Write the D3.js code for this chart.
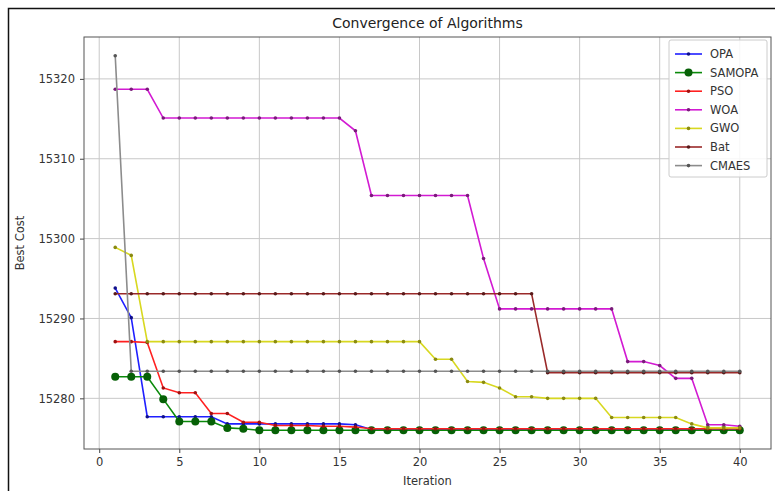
<!DOCTYPE html>
<html>
<head>
<meta charset="utf-8">
<script src="https://cdn.jsdelivr.net/npm/d3@7"></script>
<style>
  body { margin: 0; background: #fff; }
  svg { display: block; font-family: "DejaVu Sans", sans-serif; }
</style>
</head>
<body>
<div id="chart"></div>
<script>
// iterations 1..40
const iterations = d3.range(1, 41);

const opa = [15293.8, 15290.1, 15277.7, 15277.7, 15277.7, 15277.7, 15277.7, 15276.8, 15276.8, 15276.8,
             15276.8, 15276.8, 15276.8, 15276.8, 15276.8, 15276.7, 15276.1, 15276.1, 15276.1, 15276.1,
             15276.1, 15276.1, 15276.1, 15276.1, 15276.1, 15276.1, 15276.1, 15276.1, 15276.1, 15276.1,
             15276.1, 15276.1, 15276.1, 15276.1, 15276.1, 15276.1, 15276.1, 15276.1, 15276.1, 15276.1];
const samopa = [15282.7, 15282.7, 15282.7, 15279.9, 15277.1, 15277.1, 15277.1, 15276.3, 15276.2, 15276.0,
                15276.0, 15276.0, 15276.0, 15276.0, 15276.0, 15276.0, 15276.0, 15276.0, 15276.0, 15276.0,
                15276.0, 15276.0, 15276.0, 15276.0, 15276.0, 15276.0, 15276.0, 15276.0, 15276.0, 15276.0,
                15276.0, 15276.0, 15276.0, 15276.0, 15276.0, 15276.0, 15276.0, 15276.0, 15276.0, 15276.0];
const pso = [15287.1, 15287.1, 15287.0, 15281.3, 15280.7, 15280.7, 15278.1, 15278.1, 15277.0, 15277.0,
             15276.6, 15276.6, 15276.6, 15276.5, 15276.5, 15276.4, 15276.2, 15276.2, 15276.2, 15276.2,
             15276.2, 15276.2, 15276.2, 15276.2, 15276.2, 15276.2, 15276.2, 15276.2, 15276.2, 15276.2,
             15276.2, 15276.2, 15276.2, 15276.2, 15276.2, 15276.2, 15276.2, 15276.2, 15276.2, 15276.2];
const woa = [15318.7, 15318.7, 15318.7, 15315.1, 15315.1, 15315.1, 15315.1, 15315.1, 15315.1, 15315.1,
             15315.1, 15315.1, 15315.1, 15315.1, 15315.1, 15313.5, 15305.4, 15305.4, 15305.4, 15305.4,
             15305.4, 15305.4, 15305.4, 15297.5, 15291.2, 15291.2, 15291.2, 15291.2, 15291.2, 15291.2,
             15291.2, 15291.2, 15284.6, 15284.6, 15284.1, 15282.5, 15282.5, 15276.7, 15276.7, 15276.5];
const gwo = [15298.9, 15297.9, 15287.1, 15287.1, 15287.1, 15287.1, 15287.1, 15287.1, 15287.1, 15287.1,
             15287.1, 15287.1, 15287.1, 15287.1, 15287.1, 15287.1, 15287.1, 15287.1, 15287.1, 15287.1,
             15284.9, 15284.9, 15282.1, 15282.0, 15281.3, 15280.2, 15280.2, 15280.0, 15280.0, 15280.0,
             15280.0, 15277.6, 15277.6, 15277.6, 15277.6, 15277.6, 15276.8, 15276.3, 15276.3, 15276.3];
const bat = [15293.1, 15293.1, 15293.1, 15293.1, 15293.1, 15293.1, 15293.1, 15293.1, 15293.1, 15293.1,
             15293.1, 15293.1, 15293.1, 15293.1, 15293.1, 15293.1, 15293.1, 15293.1, 15293.1, 15293.1,
             15293.1, 15293.1, 15293.1, 15293.1, 15293.1, 15293.1, 15293.1, 15283.2, 15283.2, 15283.2,
             15283.2, 15283.2, 15283.2, 15283.2, 15283.2, 15283.2, 15283.2, 15283.2, 15283.2, 15283.2];
const cmaes = [15322.9, 15283.4, 15283.4, 15283.4, 15283.4, 15283.4, 15283.4, 15283.4, 15283.4, 15283.4,
               15283.4, 15283.4, 15283.4, 15283.4, 15283.4, 15283.4, 15283.4, 15283.4, 15283.4, 15283.4,
               15283.4, 15283.4, 15283.4, 15283.4, 15283.4, 15283.4, 15283.4, 15283.4, 15283.4, 15283.4,
               15283.4, 15283.4, 15283.4, 15283.4, 15283.4, 15283.4, 15283.4, 15283.4, 15283.4, 15283.4];

const seriesNames = ['OPA', 'SAMOPA', 'PSO', 'WOA', 'GWO', 'Bat', 'CMAES'];
const seriesValues = [opa, samopa, pso, woa, gwo, bat, cmaes];
const seriesColors = ['#1f1fff', '#0a8a0a', '#ff2020', '#d21ad2', '#d8d820', '#9a2a2a', '#8c8c8c'];
const markerColors = ['#10108a', '#066006', '#a01010', '#7a1a7a', '#8a8a10', '#5a1a1a', '#555555'];
const markerRadius = [1.8, 4, 1.8, 1.8, 1.8, 1.8, 1.8];

const xTicks = [0, 5, 10, 15, 20, 25, 30, 35, 40];
const yTicks = [15280, 15290, 15300, 15310, 15320];

const width = 775, height = 491;
const margin = {left: 84, right: 4, top: 37, bottom: 42};

const svg = d3.select('#chart').append('svg')
    .attr('width', width)
    .attr('height', height);

// outer screenshot frame
svg.append('path')
    .attr('d', `M8.5,${height} V8.5 H${width}`)
    .attr('fill', 'none')
    .attr('stroke', '#111')
    .attr('stroke-width', 1.5);

// matplotlib style 5% padding
const allVals = seriesValues.flat();
const yMin = d3.min(allVals), yMax = d3.max(allVals);
const yPad = (yMax - yMin) * 0.05;
const xPad = (40 - 1) * 0.05;

const x = d3.scaleLinear()
    .domain([1 - xPad, 40 + xPad])
    .range([margin.left, width - margin.right]);
const y = d3.scaleLinear()
    .domain([yMin - yPad, yMax + yPad])
    .range([height - margin.bottom, margin.top]);

const plotW = width - margin.right - margin.left;
const plotH = height - margin.bottom - margin.top;

// grid
const grid = svg.append('g');
grid.selectAll('line.vx').data(xTicks).enter().append('line')
    .attr('x1', d => x(d)).attr('x2', d => x(d))
    .attr('y1', margin.top).attr('y2', height - margin.bottom)
    .attr('stroke', '#c8c8c8').attr('stroke-width', 1);
grid.selectAll('line.hy').data(yTicks).enter().append('line')
    .attr('x1', margin.left).attr('x2', width - margin.right)
    .attr('y1', d => y(d)).attr('y2', d => y(d))
    .attr('stroke', '#c8c8c8').attr('stroke-width', 1);

// axes
const xAxis = svg.append('g')
    .attr('transform', `translate(0,${height - margin.bottom})`)
    .call(d3.axisBottom(x).tickValues(xTicks).tickSize(4).tickPadding(5).tickSizeOuter(0));
const yAxis = svg.append('g')
    .attr('transform', `translate(${margin.left},0)`)
    .call(d3.axisLeft(y).tickValues(yTicks).tickSize(4).tickPadding(5).tickFormat(d3.format('d')).tickSizeOuter(0));
[xAxis, yAxis].forEach(a => {
    a.select('.domain').remove();
    a.selectAll('line').attr('stroke', '#444');
    a.selectAll('text').attr('fill', '#333').style('font-size', '11.5px').style('font-family', '"DejaVu Sans", sans-serif');
});

// frame
svg.append('rect')
    .attr('x', margin.left).attr('y', margin.top)
    .attr('width', plotW).attr('height', plotH)
    .attr('fill', 'none').attr('stroke', '#555').attr('stroke-width', 1);

// series
const line = d3.line()
    .x((d, i) => x(iterations[i]))
    .y(d => y(d));

seriesValues.forEach((vals, s) => {
    const g = svg.append('g');
    g.append('path')
        .datum(vals)
        .attr('d', line)
        .attr('fill', 'none')
        .attr('stroke', seriesColors[s])
        .attr('stroke-width', 1.6);
    g.selectAll('circle').data(vals).enter().append('circle')
        .attr('cx', (d, i) => x(iterations[i]))
        .attr('cy', d => y(d))
        .attr('r', markerRadius[s])
        .attr('fill', markerColors[s]);
});

// titles
svg.append('text')
    .attr('x', margin.left + plotW / 2).attr('y', 28)
    .attr('text-anchor', 'middle')
    .attr('fill', '#222')
    .style('font-size', '14px')
    .text('Convergence of Algorithms');
svg.append('text')
    .attr('x', margin.left + plotW / 2).attr('y', 485)
    .attr('text-anchor', 'middle')
    .attr('fill', '#333')
    .style('font-size', '11.5px')
    .text('Iteration');
svg.append('text')
    .attr('transform', `translate(24,${margin.top + plotH / 2}) rotate(-90)`)
    .attr('text-anchor', 'middle')
    .attr('fill', '#333')
    .style('font-size', '11.5px')
    .text('Best Cost');

// legend
const lg = svg.append('g').attr('transform', 'translate(669,40)');
lg.append('rect')
    .attr('width', 98).attr('height', 137)
    .attr('rx', 2)
    .attr('fill', '#fff').attr('fill-opacity', 0.85)
    .attr('stroke', '#ccc');
seriesNames.forEach((name, s) => {
    const ly = 14 + s * 18.6;
    lg.append('line')
        .attr('x1', 6).attr('x2', 33)
        .attr('y1', ly).attr('y2', ly)
        .attr('stroke', seriesColors[s]).attr('stroke-width', 1.6);
    lg.append('circle')
        .attr('cx', 19.5).attr('cy', ly)
        .attr('r', markerRadius[s])
        .attr('fill', markerColors[s]);
    lg.append('text')
        .attr('x', 41).attr('y', ly + 4)
        .attr('fill', '#333')
        .style('font-size', '11.5px')
        .text(name);
});
</script>
</body>
</html>
